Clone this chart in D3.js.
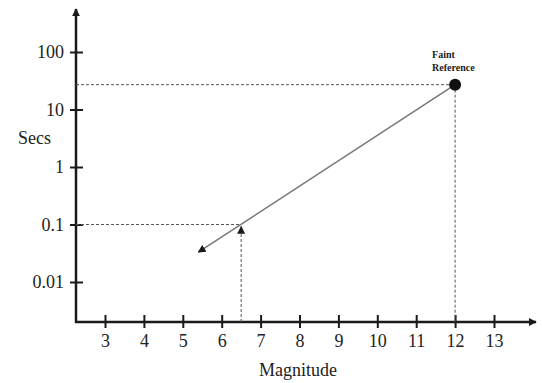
<!DOCTYPE html>
<html>
<head>
<meta charset="utf-8">
<script src="https://cdn.jsdelivr.net/npm/d3@7"></script>
<style>
  body { margin: 0; background: #fff; }
  svg text { font-family: "Liberation Serif", "DejaVu Serif", serif; fill: #222; }
</style>
</head>
<body>
<div id="chart"></div>
<script>
// chart data
var magTicks = [3, 4, 5, 6, 7, 8, 9, 10, 11, 12, 13];
var secTicks = [0.01, 0.1, 1, 10, 100];
var secLabels = ["0.01", "0.1", "1", "10", "100"];
var refMag = [12];
var refSecs = [27];
var guideMag = [6.5];
var guideSecs = [0.1];
var trendMags = [12, 5.4];
var trendSecs = [27, 0.033];

var width = 542, height = 383;

// scales
var x = d3.scaleLinear().domain([3, 13]).range([105, 494]);
var y = d3.scaleLog().domain([0.01, 100]).range([282, 52]);

var x0 = 76, y0 = 322;

var svg = d3.select("#chart")
  .append("svg")
  .attr("width", width)
  .attr("height", height);

svg.append("defs").append("marker")
  .attr("id", "head")
  .attr("viewBox", "0 0 10 10")
  .attr("refX", 9).attr("refY", 5)
  .attr("markerWidth", 8).attr("markerHeight", 8)
  .attr("markerUnits", "userSpaceOnUse")
  .attr("orient", "auto")
  .append("path")
  .attr("d", "M0,0L10,5L0,10Z")
  .attr("fill", "#1a1a1a");

// x axis
var xAxis = svg.append("g")
  .attr("transform", "translate(0," + y0 + ")")
  .call(d3.axisBottom(x).tickValues(magTicks).tickSize(6).tickPadding(6).tickFormat(d3.format("d")));
xAxis.select(".domain").remove();
xAxis.selectAll(".tick line").attr("y1", -7).attr("stroke", "#1a1a1a").attr("stroke-width", 2);
xAxis.selectAll(".tick text").attr("font-size", 18).attr("fill", "#222");

// y axis
var yAxis = svg.append("g")
  .attr("transform", "translate(" + x0 + ",0)")
  .call(d3.axisLeft(y).tickValues(secTicks).tickSize(6).tickPadding(3)
    .tickFormat(function(d, i) { return secLabels[i]; }));
yAxis.select(".domain").remove();
yAxis.selectAll(".tick line").attr("x1", 7).attr("x2", -6).attr("stroke", "#1a1a1a").attr("stroke-width", 2);
yAxis.selectAll(".tick text").attr("font-size", 18).attr("fill", "#222").attr("dx", -3);

// axis lines with arrows
svg.append("line")
  .attr("x1", x0 - 1).attr("y1", y0).attr("x2", 536).attr("y2", y0)
  .attr("stroke", "#1a1a1a").attr("stroke-width", 2.5)
  .attr("marker-end", "url(#head)");
svg.append("line")
  .attr("x1", x0).attr("y1", y0 + 1).attr("x2", x0).attr("y2", 9)
  .attr("stroke", "#1a1a1a").attr("stroke-width", 2.5)
  .attr("marker-end", "url(#head)");

// dashed guides to reference point
var dash = "3,2";
svg.append("line")
  .attr("x1", x0).attr("y1", y(refSecs[0])).attr("x2", x(refMag[0])).attr("y2", y(refSecs[0]))
  .attr("stroke", "#555").attr("stroke-dasharray", dash);
svg.append("line")
  .attr("x1", x(refMag[0])).attr("y1", y(refSecs[0])).attr("x2", x(refMag[0])).attr("y2", y0)
  .attr("stroke", "#555").attr("stroke-dasharray", dash);

// dashed guides to 6.5 / 0.1
svg.append("line")
  .attr("x1", x0).attr("y1", y(guideSecs[0])).attr("x2", x(guideMag[0])).attr("y2", y(guideSecs[0]))
  .attr("stroke", "#555").attr("stroke-dasharray", dash);
svg.append("line")
  .attr("x1", x(guideMag[0])).attr("y1", y0).attr("x2", x(guideMag[0])).attr("y2", y(guideSecs[0]) + 2)
  .attr("stroke", "#555").attr("stroke-dasharray", dash)
  .attr("marker-end", "url(#head)");

// trend line
svg.append("path")
  .datum(d3.zip(trendMags, trendSecs))
  .attr("d", d3.line().x(function(d) { return x(d[0]); }).y(function(d) { return y(d[1]); }))
  .attr("fill", "none")
  .attr("stroke", "#777")
  .attr("stroke-width", 1.5)
  .attr("marker-end", "url(#head)");

// reference point
svg.selectAll("circle.ref")
  .data(d3.zip(refMag, refSecs))
  .enter()
  .append("circle")
  .attr("class", "ref")
  .attr("cx", function(d) { return x(d[0]); })
  .attr("cy", function(d) { return y(d[1]); })
  .attr("r", 6)
  .attr("fill", "#111");

svg.append("text")
  .attr("x", x(refMag[0]) - 23).attr("y", 58)
  .attr("font-size", 10).attr("font-weight", "bold")
  .text("Faint");
svg.append("text")
  .attr("x", x(refMag[0]) - 23).attr("y", 71)
  .attr("font-size", 10).attr("font-weight", "bold")
  .text("Reference");

// axis titles
svg.append("text")
  .attr("x", 18).attr("y", 144)
  .attr("font-size", 18)
  .text("Secs");
svg.append("text")
  .attr("x", 298).attr("y", 376)
  .attr("text-anchor", "middle")
  .attr("font-size", 18)
  .text("Magnitude");
</script>
</body>
</html>
